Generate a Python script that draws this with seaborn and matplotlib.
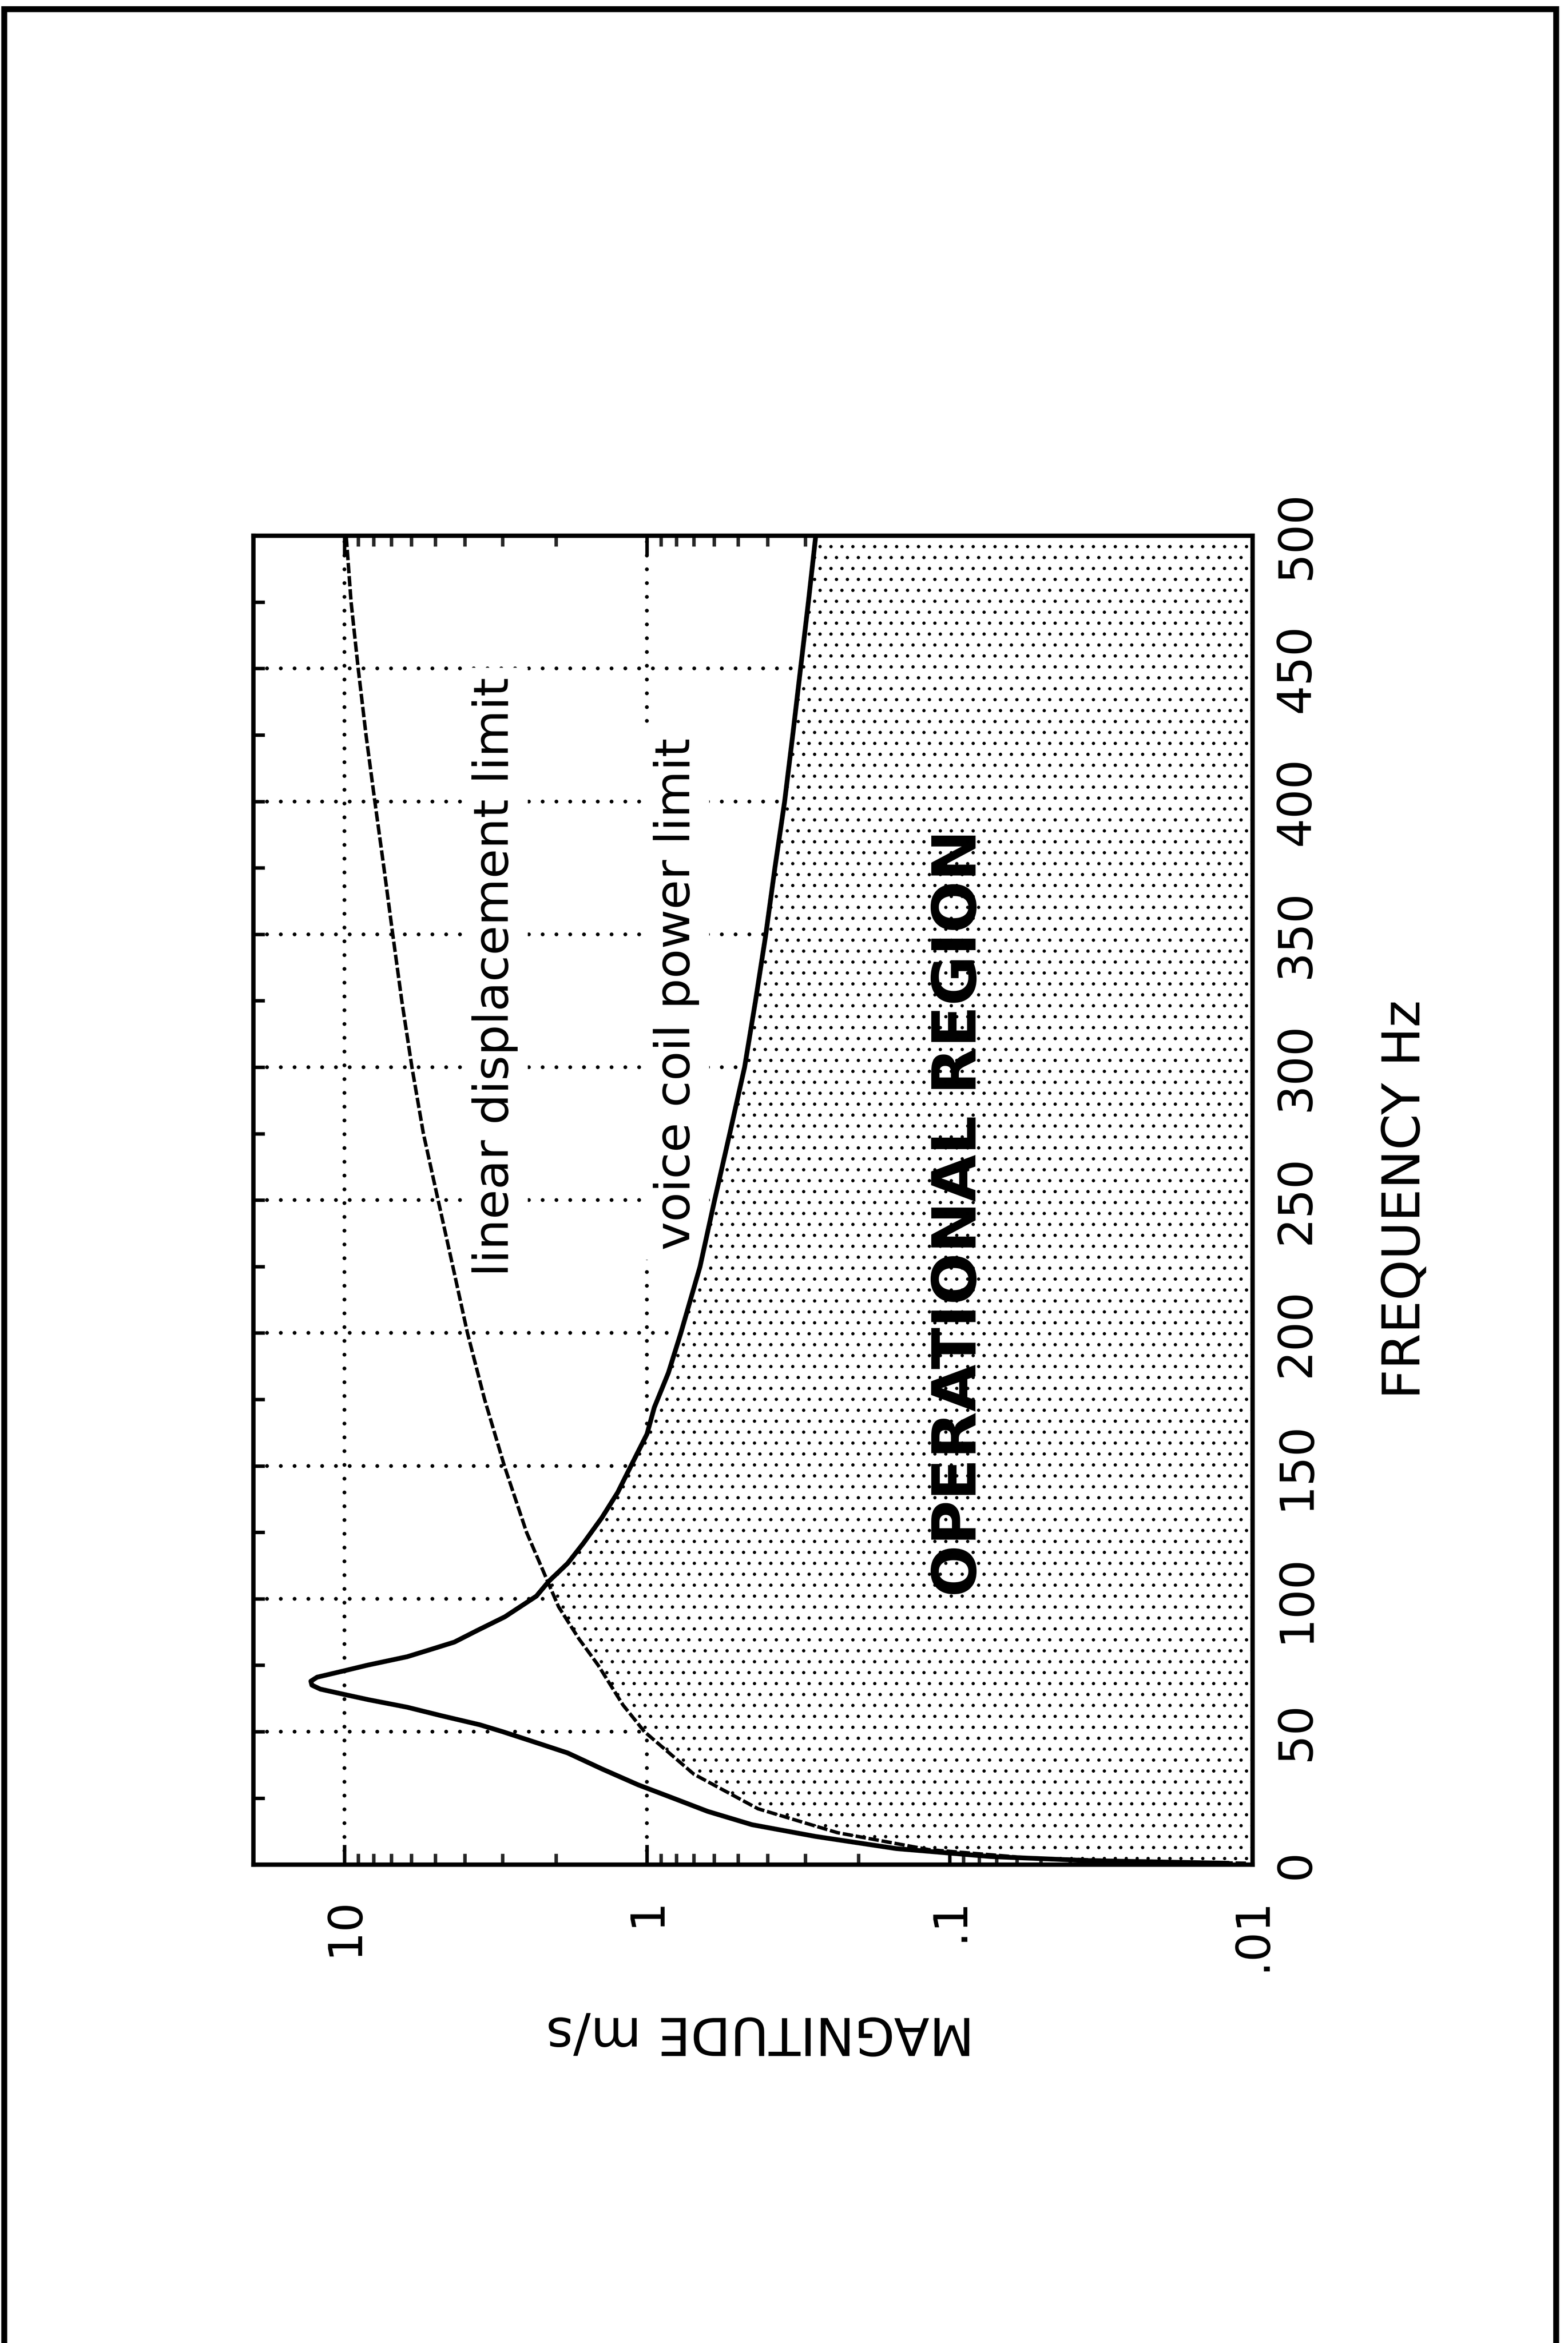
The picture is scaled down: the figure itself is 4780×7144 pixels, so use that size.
import numpy as np
import pandas as pd
import matplotlib
matplotlib.use("Agg")
import matplotlib.pyplot as plt
import seaborn as sns
from matplotlib.ticker import LogLocator, NullFormatter, MultipleLocator
from matplotlib.patches import Rectangle

# ---------------- data ----------------
voice_coil_freq = [0.5, 1.5, 3, 6, 10.6, 15, 20, 25, 30, 36, 42, 46, 50, 52.6, 56, 59.2,
                   62, 64, 66, 67.5, 69, 70.5, 72.8, 75, 78.2, 80.5, 83.7, 88, 93.2, 101,
                   106.6, 113.3, 121, 130.5, 140, 150, 162, 172, 185, 200, 225, 250, 275,
                   300, 325, 350, 375, 400, 425, 450, 475, 500]
voice_coil_mag = [0.012, 0.035, 0.073, 0.15, 0.278, 0.45, 0.63, 0.82, 1.07, 1.41, 1.83, 2.34,
                  3.0, 3.57, 4.78, 6.2, 8.3, 10.0, 12.0, 12.8, 12.9, 12.3, 10.1, 8.4, 6.2,
                  5.33, 4.33, 3.65, 2.95, 2.32, 2.11, 1.83, 1.62, 1.41, 1.25, 1.13, 1.00,
                  0.946, 0.85, 0.773, 0.668, 0.598, 0.533, 0.476, 0.438, 0.405, 0.378,
                  0.351, 0.33, 0.311, 0.293, 0.277]

displacement_freq = [0.5, 1, 2.5, 5.6, 12, 21, 34, 50, 60, 75, 85, 97, 106, 125, 150, 175,
                     200, 225, 250, 275, 300, 325, 350, 375, 400, 425, 450, 475, 500]
displacement_mag = [0.0105, 0.021, 0.055, 0.117, 0.235, 0.43, 0.70, 1.02, 1.2, 1.45, 1.68,
                    1.96, 2.12, 2.50, 2.96, 3.44, 3.92, 4.38, 4.9, 5.48, 5.98, 6.46, 6.92,
                    7.4, 7.93, 8.48, 9.0, 9.5, 9.86]

freq_ticks = [0, 50, 100, 150, 200, 250, 300, 350, 400, 450, 500]
freq_tick_labels = ["0", "50", "100", "150", "200", "250", "300", "350", "400", "450", "500"]
mag_ticks = [10, 1, 0.1, 0.01]
mag_tick_labels = ["10", "1", ".1", ".01"]

# ---------------- style ----------------
sns.set_theme(style="white")
plt.rcParams['font.family'] = ['DejaVu Sans']
plt.rcParams['hatch.linewidth'] = 1.2
plt.rcParams['hatch.color'] = 'black'

DPI = 200
fig = plt.figure(figsize=(4780 / DPI, 7144 / DPI), dpi=DPI)
fig.patch.set_facecolor('white')
ax = fig.add_axes([0.1615, 0.2042, 0.6372, 0.5672])
ax.set_facecolor('white')

# ---------------- operational region (below both limits) ----------------
f_all = np.union1d(voice_coil_freq, displacement_freq)
lv = np.interp(f_all, voice_coil_freq, np.log10(voice_coil_mag))
ld = np.interp(f_all, displacement_freq, np.log10(displacement_mag))
env = 10 ** np.minimum(lv, ld)
f_fill = np.concatenate([[0.0], f_all])
env_fill = np.concatenate([[0.01], env])
ax.fill_betweenx(f_fill, 0.01, env_fill, facecolor='white', edgecolor='black',
                 hatch='.', linewidth=0, zorder=1)

# ---------------- curves ----------------
df_v = pd.DataFrame({"freq": voice_coil_freq, "mag": voice_coil_mag})
df_d = pd.DataFrame({"freq": displacement_freq, "mag": displacement_mag})
sns.lineplot(data=df_v, x="mag", y="freq", orient="y", sort=False, estimator=None,
             color="black", linewidth=5.2, ax=ax, zorder=2)
sns.lineplot(data=df_d, x="mag", y="freq", orient="y", sort=False, estimator=None,
             color="black", linewidth=3.8, linestyle=(0, (3.0, 0.8)), ax=ax, zorder=2)

# ---------------- dotted grid ----------------
grid_kw = dict(color="black", lw=4.2, linestyle=(0, (0.001, 3.6)),
               dash_capstyle="round", zorder=0.5)
for f in freq_ticks[1:-1]:
    ax.axhline(f, **grid_kw)
for m in mag_ticks[:-1]:
    ax.axvline(m, **grid_kw)

# ---------------- axes / ticks ----------------
ax.set_xscale("log")
ax.set_xlim(20, 0.01)
ax.set_ylim(0, 500)
ax.set_xticks(mag_ticks, labels=mag_tick_labels)
ax.xaxis.set_minor_locator(LogLocator(base=10, subs=np.arange(2, 10), numticks=30))
ax.xaxis.set_minor_formatter(NullFormatter())
ax.set_yticks(freq_ticks, labels=freq_tick_labels)
ax.yaxis.set_minor_locator(MultipleLocator(25))

for sp in ax.spines.values():
    sp.set_visible(True)
    sp.set_color("black")
    sp.set_linewidth(4.8)

ax.tick_params(axis="x", which="major", direction="in", length=21.6, width=3.8,
               top=True, bottom=True, labelbottom=True, labeltop=False,
               labelsize=51, pad=36, labelrotation=90, colors="black")
ax.tick_params(axis="x", which="minor", direction="in", length=11.9, width=3.8,
               top=True, bottom=True)
ax.tick_params(axis="y", which="both", direction="in", length=12.6, width=3.8,
               left=True, right=True, labelleft=False, labelright=True,
               labelsize=51, pad=23, labelrotation=90, colors="black")
for tick in ax.yaxis.get_major_ticks():
    tick.label2.set_va("center")
    tick.label2.set_ha("left")

ax.set_xlabel("MAGNITUDE m/s", fontsize=57, rotation=180, ha="center", va="center",
              color="black")
ax.xaxis.set_label_coords(0.5075, -0.1259)
ax.yaxis.set_label_position("right")
ax.set_ylabel("FREQUENCY Hz", fontsize=57, rotation=90, ha="center", va="center",
              color="black")
ax.yaxis.set_label_coords(1.153, 0.5005)

# ---------------- annotations ----------------
box = dict(boxstyle="square,pad=0.2", fc="white", ec="none")
ax.text(3.18, 334, "linear displacement limit", rotation=90, ha="center", va="center",
        fontsize=53, color="black", bbox=box, zorder=1.2)
ax.text(0.80, 327.5, "voice coil power limit", rotation=90, ha="center", va="center",
        fontsize=53, color="black", bbox=box, zorder=1.2)
ax.text(0.093, 245, "OPERATIONAL REGION", rotation=90, ha="center", va="center",
        fontsize=67, fontweight="bold", color="black", zorder=3)

# ---------------- page border ----------------
fig.add_artist(Rectangle((13 / 4780, -4 / 7144), (4744 - 13) / 4780, (7148 - 28) / 7144,
                         transform=fig.transFigure, fill=False, lw=6.5, ec="black",
                         clip_on=False))

fig.savefig("out.png", dpi=DPI, facecolor="white")
